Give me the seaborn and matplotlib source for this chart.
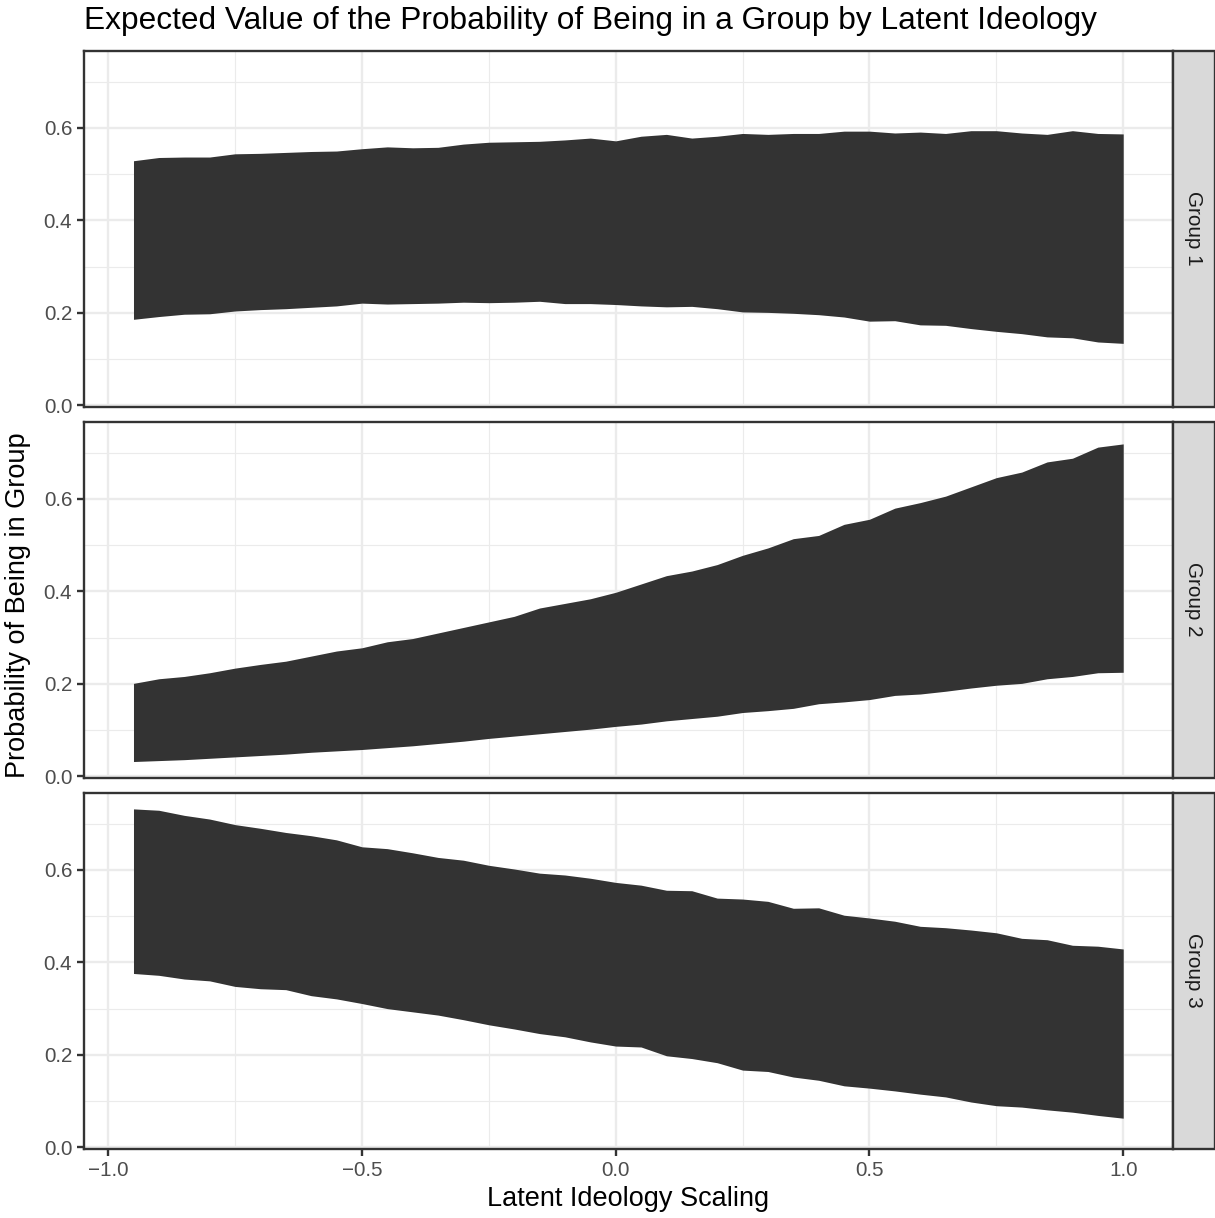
import numpy as np
import pandas as pd
import matplotlib
matplotlib.use("Agg")
import matplotlib.pyplot as plt
import seaborn as sns
from matplotlib.patches import Rectangle
from matplotlib.ticker import FixedLocator, FuncFormatter

# ---------------- data ----------------
x_vals = [-0.95, -0.90, -0.85, -0.80, -0.75, -0.70, -0.65, -0.60, -0.55, -0.50,
          -0.45, -0.40, -0.35, -0.30, -0.25, -0.20, -0.15, -0.10, -0.05, 0.00,
          0.05, 0.10, 0.15, 0.20, 0.25, 0.30, 0.35, 0.40, 0.45, 0.50,
          0.55, 0.60, 0.65, 0.70, 0.75, 0.80, 0.85, 0.90, 0.95, 1.00]

groups = ["Group 1", "Group 2", "Group 3"]

g1_upper = [0.529, 0.536, 0.537, 0.537, 0.544, 0.545, 0.547, 0.549, 0.550, 0.555,
            0.559, 0.557, 0.558, 0.565, 0.569, 0.570, 0.571, 0.574, 0.578, 0.572,
            0.582, 0.586, 0.578, 0.582, 0.588, 0.586, 0.588, 0.588, 0.593, 0.593,
            0.589, 0.591, 0.588, 0.594, 0.594, 0.589, 0.586, 0.594, 0.588, 0.587]
g1_lower = [0.186, 0.192, 0.197, 0.198, 0.204, 0.207, 0.209, 0.212, 0.215, 0.221,
            0.219, 0.220, 0.221, 0.223, 0.222, 0.223, 0.225, 0.220, 0.220, 0.218,
            0.215, 0.213, 0.214, 0.209, 0.202, 0.201, 0.199, 0.196, 0.191, 0.182,
            0.183, 0.174, 0.173, 0.166, 0.160, 0.155, 0.148, 0.146, 0.137, 0.134]

g2_upper = [0.201, 0.211, 0.216, 0.224, 0.234, 0.242, 0.249, 0.260, 0.271, 0.278,
            0.291, 0.298, 0.310, 0.322, 0.334, 0.346, 0.364, 0.374, 0.384, 0.398,
            0.416, 0.434, 0.444, 0.458, 0.478, 0.494, 0.514, 0.521, 0.545, 0.556,
            0.580, 0.592, 0.606, 0.626, 0.646, 0.658, 0.680, 0.688, 0.712, 0.719]
g2_lower = [0.032, 0.034, 0.036, 0.039, 0.042, 0.045, 0.048, 0.052, 0.055, 0.058,
            0.062, 0.066, 0.071, 0.076, 0.082, 0.087, 0.092, 0.097, 0.102, 0.108,
            0.113, 0.120, 0.125, 0.130, 0.138, 0.142, 0.147, 0.157, 0.161, 0.166,
            0.175, 0.178, 0.184, 0.191, 0.197, 0.201, 0.211, 0.216, 0.224, 0.225]

g3_upper = [0.732, 0.729, 0.718, 0.710, 0.698, 0.690, 0.681, 0.674, 0.665, 0.650,
            0.646, 0.637, 0.627, 0.621, 0.610, 0.602, 0.593, 0.589, 0.582, 0.573,
            0.567, 0.556, 0.555, 0.539, 0.537, 0.532, 0.517, 0.518, 0.502, 0.496,
            0.489, 0.478, 0.475, 0.470, 0.464, 0.452, 0.449, 0.437, 0.435, 0.429]
g3_lower = [0.376, 0.372, 0.364, 0.360, 0.348, 0.343, 0.341, 0.328, 0.321, 0.311,
            0.300, 0.293, 0.286, 0.276, 0.265, 0.256, 0.246, 0.239, 0.228, 0.219,
            0.217, 0.198, 0.192, 0.183, 0.167, 0.164, 0.152, 0.145, 0.133, 0.128,
            0.122, 0.115, 0.109, 0.098, 0.090, 0.087, 0.081, 0.076, 0.069, 0.063]

x_ticks = [-1.0, -0.5, 0.0, 0.5, 1.0]
x_minor = [-0.75, -0.25, 0.25, 0.75]
y_ticks = [0.0, 0.2, 0.4, 0.6]
y_minor = [0.1, 0.3, 0.5, 0.7]

title = "Expected Value of the Probability of Being in a Group by Latent Ideology"
x_label = "Latent Ideology Scaling"
y_label = "Probability of Being in Group"

# ---------------- build table ----------------
lowers = [g1_lower, g2_lower, g3_lower]
uppers = [g1_upper, g2_upper, g3_upper]
frames = []
for gname, lo, up in zip(groups, lowers, uppers):
    frames.append(pd.DataFrame({"x": x_vals, "lower": lo, "upper": up, "group": gname}))
df = pd.concat(frames, ignore_index=True)

# ---------------- style ----------------
sns.set_theme(style="white")
plt.rcParams["font.family"] = ["Liberation Sans", "DejaVu Sans"]
plt.rcParams["axes.unicode_minus"] = True

W, H = 1215, 1218
DARK = "#333333"
TICK_FS = 14.9
AXIS_FS = 19.5
TITLE_FS = 22.8
LW = 1.7

g = sns.FacetGrid(df, row="group", row_order=groups, sharex=True, sharey=True,
                  height=H / 100 / 3, aspect=(W / H) * 3, despine=False)


def draw_band(data, color=None, **kws):
    ax = plt.gca()
    ax.fill_between(data["x"], data["lower"], data["upper"],
                    color=DARK, linewidth=0, zorder=2)


g.map_dataframe(draw_band)
g.set_titles("")
g.set_axis_labels("", "")

fig = g.figure
fig.set_size_inches(W / 100, H / 100)
fig.patch.set_facecolor("white")

# limits with ggplot-like 5% expansion
xmin, xmax = min(x_vals), max(x_vals)
xr = xmax - xmin
ymin = min(min(l) for l in lowers)
ymax = max(max(u) for u in uppers)
yr = ymax - ymin

left_px, right_px = 84, 1172.7
tops = [50.7, 421.7, 792.7]
ph = 356.0
strip_w = 42.0

fmt = FuncFormatter(lambda v, p: f"{v:.1f}".replace("-", "\u2212"))

for i, ax in enumerate(g.axes.flat):
    top = tops[i]
    ax.set_position([left_px / W, 1 - (top + ph) / H, (right_px - left_px) / W, ph / H])
    ax.set_xlim(xmin - 0.05 * xr, xmax + 0.05 * xr)
    ax.set_ylim(ymin - 0.05 * yr, ymax + 0.05 * yr)
    ax.set_facecolor("white")
    ax.xaxis.set_major_locator(FixedLocator(x_ticks))
    ax.xaxis.set_minor_locator(FixedLocator(x_minor))
    ax.yaxis.set_major_locator(FixedLocator(y_ticks))
    ax.yaxis.set_minor_locator(FixedLocator(y_minor))
    ax.xaxis.set_major_formatter(fmt)
    ax.yaxis.set_major_formatter(fmt)
    ax.grid(True, which="major", color="#EBEBEB", linewidth=LW, zorder=0)
    ax.grid(True, which="minor", color="#EBEBEB", linewidth=LW / 2, zorder=0)
    ax.set_axisbelow(True)
    for s in ax.spines.values():
        s.set_visible(True)
        s.set_color(DARK)
        s.set_linewidth(LW)
        s.set_zorder(5)
    ax.tick_params(which="minor", length=0)
    ax.tick_params(axis="y", which="major", left=True, length=5, width=LW,
                   color=DARK, labelcolor="#4D4D4D", labelsize=TICK_FS, pad=3.5)
    last = (i == len(groups) - 1)
    ax.tick_params(axis="x", which="major", bottom=last, labelbottom=last,
                   length=5, width=LW, color=DARK, labelcolor="#4D4D4D",
                   labelsize=TICK_FS, pad=3.5)
    ax.set_xlabel("")
    ax.set_ylabel("")

    # strip on the right
    sx = right_px / W
    sy = 1 - (top + ph) / H
    fig.add_artist(Rectangle((sx, sy), strip_w / W, ph / H, transform=fig.transFigure,
                             facecolor="#D9D9D9", edgecolor=DARK, linewidth=LW,
                             zorder=3))
    fig.text((right_px + strip_w / 2) / W, 1 - (top + ph / 2) / H, groups[i],
             rotation=-90, ha="center", va="center", fontsize=TICK_FS, color="#1A1A1A")

fig.text(84 / W, 1 - 29.5 / H, title, ha="left", va="baseline", fontsize=TITLE_FS,
         color="black")
fig.text((left_px + right_px) / 2 / W, 1 - 1206.5 / H, x_label, ha="center",
         va="baseline", fontsize=AXIS_FS, color="black")
fig.text(18 / W, 1 - 605 / H, y_label, ha="center",
         va="center", rotation=90, fontsize=AXIS_FS, color="black")

fig.savefig("out.png", dpi=100, facecolor="white")
